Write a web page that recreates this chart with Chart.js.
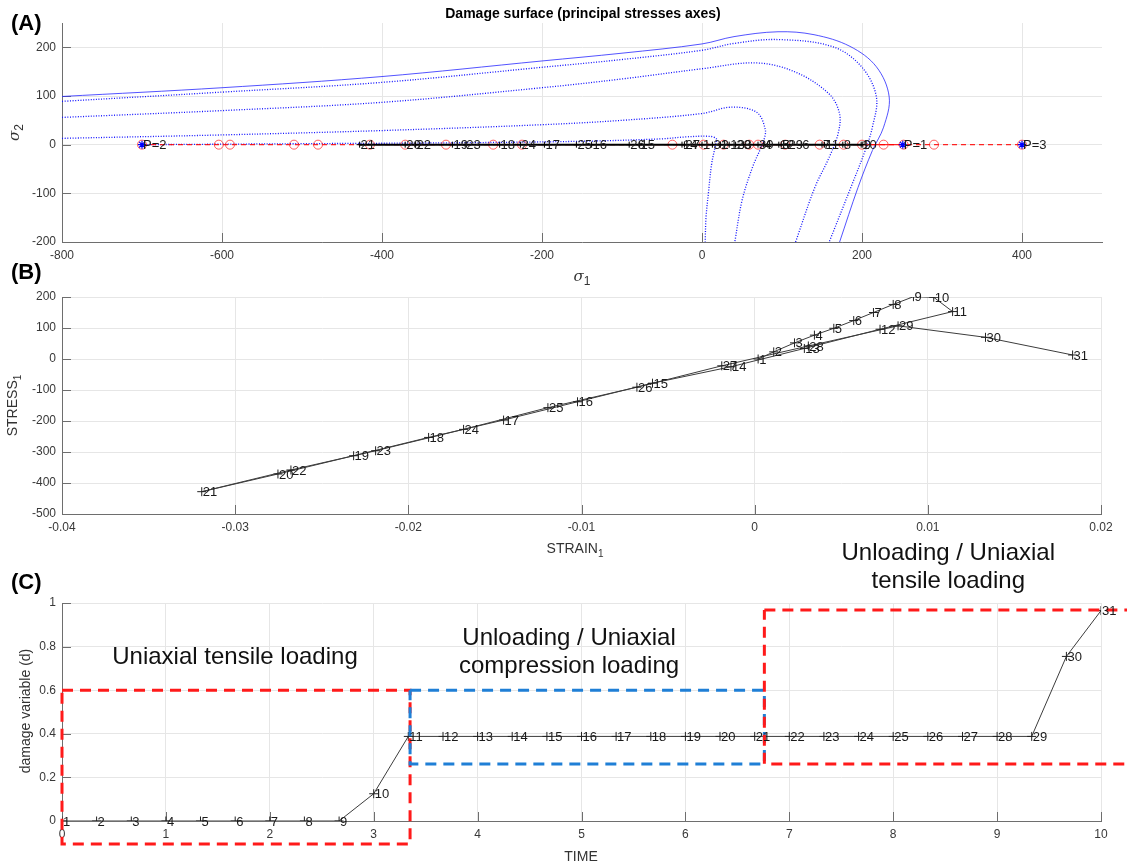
<!DOCTYPE html>
<html>
<head>
<meta charset="utf-8">
<script src="https://cdn.jsdelivr.net/npm/chart.js@4.4.0/dist/chart.umd.min.js"></script>
<style>
  html, body { margin: 0; padding: 0; background: #fff; }
  #wrap { position: relative; width: 1127px; height: 867px; }
  canvas { position: absolute; left: 0; top: 0; }
</style>
</head>
<body>
<div id="wrap">
  <canvas id="chartA" width="1127" height="867"></canvas>
  <canvas id="chartB" width="1127" height="867"></canvas>
  <canvas id="chartC" width="1127" height="867"></canvas>
</div>
<script>
// load steps 1..31
const stepLabels = ['1','2','3','4','5','6','7','8','9','10','11','12','13','14','15','16',
  '17','18','19','20','21','22','23','24','25','26','27','28','29','30','31'];
const strain1 = [0.0002, 0.0011, 0.0023, 0.00345, 0.00457, 0.00572, 0.00686, 0.0080, 0.00917, 0.01034,
  0.01143, 0.00724, 0.00287, -0.00137, -0.0059, -0.01023, -0.0145, -0.01883, -0.02316, -0.02753,
  -0.03193, -0.02678, -0.02189, -0.01681, -0.01194, -0.0068, -0.0019, 0.0031, 0.00828, 0.01333, 0.01836];
const stress1 = [0, 23, 52, 77, 99, 124, 150, 176, 201, 199, 153, 96, 34, -25, -78, -138, -197, -253,
  -312, -371, -428, -358, -296, -227, -157, -91, -22, 42, 107, 70, 13];
const time = [0, 0.333, 0.667, 1, 1.333, 1.667, 2, 2.333, 2.667, 3, 3.333, 3.667, 4, 4.333, 4.667, 5,
  5.333, 5.667, 6, 6.333, 6.667, 7, 7.333, 7.667, 8, 8.333, 8.667, 9, 9.333, 9.667, 10];
const damage = [0, 0, 0, 0, 0, 0, 0, 0, 0, 0.125, 0.388, 0.388, 0.388, 0.388, 0.388, 0.388, 0.388,
  0.388, 0.388, 0.388, 0.388, 0.388, 0.388, 0.388, 0.388, 0.388, 0.388, 0.388, 0.388, 0.755, 0.965];

// damage surfaces, [sigma1, sigma2]
const surfaceOuter = [[-800, 99], [-600, 117], [-400, 140], [-200, 172], [-100, 188], [0, 207], [40, 222],
  [95, 232], [140, 226], [185, 202], [218, 160], [234, 98], [227, 36], [213, -12], [195, -88], [172, -200]];
const surface2 = [[-800, 89], [-600, 108], [-400, 128], [-200, 159], [-100, 175], [0, 194], [40, 208],
  [95, 216], [164, 201], [200, 159], [218, 98], [213, 36], [204, -12], [186, -88], [159, -200]];
const surface3 = [[-800, 56], [-600, 70], [-400, 87], [-200, 117], [-100, 135], [0, 156], [68, 168],
  [117, 149], [159, 104], [172, 63], [170, 22], [159, -26], [141, -88], [117, -200]];
const surface4 = [[-800, 13], [-600, 20], [-400, 29], [-200, 41], [-100, 50], [0, 64], [36, 77],
  [68, 67], [79, 32], [77, 8], [63, -47], [50, -115], [41, -200]];
const surface5 = [[-700, 0], [-500, 2], [-300, 4], [-150, 7], [-50, 12], [-20, 16], [10, 17], [18, 12],
  [17, 0], [12, -40], [8, -100], [5, -150], [4, -200]];

// loading path on sigma2 = 0
const pathSigma1 = [-700, -604, -590, -510, -480, -415, -371, -320, -261, -225, -37, 2, 27, 59, 70,
  104, 147, 177, 200, 227, 252, 290, 400];
const pathSolidSigma1 = [200, 252];
const probeSigma1 = [-700, 251, 400];
const probeLabels = ['P=2', 'P=1', 'P=3'];

// stage boxes in panel C: [t0, t1, d0, d1]
const tensileBox1 = [0, 3.35, -0.105, 0.6];
const compressionBox = [3.35, 6.76, 0.262, 0.6];
const tensileBox2 = [6.76, 10.35, 0.262, 0.968];
const stageTitles = [['Uniaxial tensile loading'], ['Unloading / Uniaxial', 'compression loading'],
  ['Unloading / Uniaxial', 'tensile loading']];
const stageTitleAt = [[1.665, 0.752], [4.88, 0.773], [8.53, 1.165]];

const FONT = '"Liberation Sans", Arial, sans-serif';
Chart.defaults.font.family = FONT;

function xy(xs, ys) { return xs.map((x, i) => ({ x: x, y: ys[i] })); }
function onAxis(xs) { return xs.map(x => ({ x: x, y: 0 })); }
function pairs(p) { return p.map(v => ({ x: v[0], y: v[1] })); }
function boxPath(b) {
  return [{ x: b[0], y: b[3] }, { x: b[1], y: b[3] }, { x: b[1], y: b[2] }, { x: b[0], y: b[2] }, { x: b[0], y: b[3] }];
}

function fmt(v) { return String(Math.round(v * 1e6) / 1e6); }

function axis(min, max, step, isX) {
  return {
    type: 'linear', min: min, max: max,
    grid: { color: '#e6e6e6', drawTicks: false },
    border: { display: true, color: '#6e6e6e' },
    ticks: { stepSize: step, includeBounds: false, color: '#383838', font: { size: 12 }, padding: 6, callback: fmt },
    afterFit: isX ? (s) => { s.height = 30; } : (s) => { s.width = 62; }
  };
}

// labels next to points
Chart.register({
  id: 'pointLabels',
  afterDatasetsDraw(chart) {
    const ctx = chart.ctx;
    chart.data.datasets.forEach((ds, i) => {
      if (!ds.pointLabels) return;
      const meta = chart.getDatasetMeta(i);
      ctx.save();
      ctx.font = '13px ' + FONT;
      ctx.fillStyle = '#1a1a1a';
      ctx.textBaseline = 'middle';
      meta.data.forEach((pt, j) => ctx.fillText(ds.pointLabels[j], pt.x + 1, pt.y + 1));
      ctx.restore();
    });
  }
});

// inward tick marks
Chart.register({
  id: 'innerTicks',
  beforeDatasetsDraw(chart) {
    const ctx = chart.ctx, a = chart.chartArea, sx = chart.scales.x, sy = chart.scales.y;
    ctx.save();
    ctx.strokeStyle = '#6e6e6e';
    ctx.lineWidth = 1;
    ctx.beginPath();
    sx.ticks.forEach(t => {
      const px = Math.round(sx.getPixelForValue(t.value)) + 0.5;
      ctx.moveTo(px, a.bottom); ctx.lineTo(px, a.bottom - 9);
    });
    sy.ticks.forEach(t => {
      const py = Math.round(sy.getPixelForValue(t.value)) + 0.5;
      ctx.moveTo(a.left, py); ctx.lineTo(a.left + 9, py);
    });
    ctx.stroke();
    ctx.restore();
  }
});

function subText(ctx, x, y, main, sub, font, subFont, rotate) {
  ctx.save();
  ctx.translate(x, y);
  if (rotate) ctx.rotate(-Math.PI / 2);
  ctx.font = font;
  const w1 = ctx.measureText(main).width;
  ctx.font = subFont;
  const w2 = ctx.measureText(sub).width;
  const x0 = -(w1 + w2) / 2;
  ctx.fillStyle = '#333';
  ctx.textBaseline = 'alphabetic';
  ctx.font = font; ctx.fillText(main, x0, 0);
  ctx.font = subFont; ctx.fillText(sub, x0 + w1, 4);
  ctx.restore();
}

function panelLabel(ctx, txt, y) {
  ctx.save();
  ctx.font = 'bold 22px ' + FONT;
  ctx.fillStyle = '#000';
  ctx.fillText(txt, 11, y);
  ctx.restore();
}

const baseOptions = (pad, xAxis, yAxis) => ({
  responsive: false, animation: false, devicePixelRatio: 1, events: [],
  layout: { padding: pad },
  plugins: { legend: { display: false }, tooltip: { enabled: false } },
  scales: { x: xAxis, y: yAxis }
});

// ---------- (A) damage surface ----------
const surfaceStyle = (data, solid) => ({
  data: pairs(data), showLine: true, pointRadius: 0, tension: 0.35,
  borderColor: solid ? 'rgba(40,40,255,0.8)' : '#1010ff', borderWidth: solid ? 1 : 1.3,
  borderDash: solid ? [] : [1, 1.6]
});

new Chart(document.getElementById('chartA'), {
  type: 'scatter',
  data: {
    datasets: [
      { data: onAxis(stress1), showLine: true, borderColor: '#000', borderWidth: 2, pointStyle: 'cross',
        pointRadius: 3, pointBorderColor: '#000', pointBorderWidth: 1, pointLabels: stepLabels },
      { data: onAxis(probeSigma1), pointStyle: 'star', pointRadius: 4, pointBorderColor: '#0000ff',
        pointBorderWidth: 1.2, pointLabels: probeLabels },
      { data: onAxis(pathSigma1), showLine: true, borderColor: 'rgba(255,0,0,0.85)', borderWidth: 1.3,
        borderDash: [5, 4], pointStyle: 'circle', pointRadius: 4.5, pointBorderColor: 'rgba(255,30,30,0.7)',
        pointBackgroundColor: 'rgba(0,0,0,0)', pointBorderWidth: 1 },
      { data: onAxis(pathSolidSigma1), showLine: true, borderColor: 'rgba(255,0,0,0.85)', borderWidth: 1.3, pointRadius: 0 },
      surfaceStyle(surfaceOuter, true),
      surfaceStyle(surface2, false),
      surfaceStyle(surface3, false),
      surfaceStyle(surface4, false),
      surfaceStyle(surface5, false)
    ]
  },
  options: baseOptions({ left: 0, top: 23, right: 25, bottom: 867 - 242 - 30 },
    axis(-800, 500, 200, true), axis(-200, 250, 100, false)),
  plugins: [{
    id: 'decorA',
    afterDraw(chart) {
      const ctx = chart.ctx, a = chart.chartArea;
      panelLabel(ctx, '(A)', 30);
      ctx.save();
      ctx.font = 'bold 14px ' + FONT;
      ctx.fillStyle = '#000';
      ctx.textAlign = 'center';
      ctx.fillText('Damage surface (principal stresses axes)', 583, 18);
      ctx.restore();
      subText(ctx, (a.left + a.right) / 2, 281, '\u03c3', '1', 'italic 15px "DejaVu Serif"', '12px ' + FONT, false);
      subText(ctx, 19, (a.top + a.bottom) / 2, '\u03c3', '2', 'italic 15px "DejaVu Serif"', '12px ' + FONT, true);
    }
  }]
});

// ---------- (B) stress-strain ----------
new Chart(document.getElementById('chartB'), {
  type: 'scatter',
  data: {
    datasets: [
      { data: xy(strain1, stress1), showLine: true, borderColor: '#3c3c3c', borderWidth: 1, pointStyle: 'cross',
        pointRadius: 4.5, pointBorderColor: '#222', pointBorderWidth: 1, pointLabels: stepLabels }
    ]
  },
  options: baseOptions({ left: 0, top: 297, right: 26, bottom: 867 - 514 - 30 },
    axis(-0.04, 0.02, 0.01, true), axis(-500, 200, 100, false)),
  plugins: [{
    id: 'decorB',
    afterDraw(chart) {
      const ctx = chart.ctx, a = chart.chartArea;
      panelLabel(ctx, '(B)', 279);
      subText(ctx, 575, 553, 'STRAIN', '1', '14px ' + FONT, '10px ' + FONT, false);
      subText(ctx, 17, (a.top + a.bottom) / 2, 'STRESS', '1', '14px ' + FONT, '10px ' + FONT, true);
    }
  }]
});

// ---------- (C) damage vs time ----------
const boxStyle = (b, color) => ({
  data: boxPath(b), showLine: true, pointRadius: 0, borderColor: color, borderWidth: 3,
  borderDash: [11, 7], clip: false
});

new Chart(document.getElementById('chartC'), {
  type: 'scatter',
  data: {
    datasets: [
      boxStyle(tensileBox2, '#ff1a1a'),
      boxStyle(compressionBox, '#1f7fd6'),
      boxStyle(tensileBox1, '#ff1a1a'),
      { data: xy(time, damage), showLine: true, borderColor: '#3c3c3c', borderWidth: 1, pointStyle: 'cross',
        pointRadius: 4.5, pointBorderColor: '#222', pointBorderWidth: 1, pointLabels: stepLabels }
    ]
  },
  options: baseOptions({ left: 0, top: 603, right: 26, bottom: 867 - 821 - 30 },
    axis(0, 10, 1, true), axis(0, 1, 0.2, false)),
  plugins: [{
    id: 'decorC',
    afterDraw(chart) {
      const ctx = chart.ctx, sx = chart.scales.x, sy = chart.scales.y;
      panelLabel(ctx, '(C)', 589);
      subText(ctx, 581, 861, 'TIME', '', '14px ' + FONT, '10px ' + FONT, false);
      subText(ctx, 30, 711, 'damage variable (d)', '', '14px ' + FONT, '10px ' + FONT, true);
      ctx.save();
      ctx.font = '24px ' + FONT;
      ctx.fillStyle = '#111';
      ctx.textAlign = 'center';
      ctx.textBaseline = 'middle';
      stageTitles.forEach((lines, i) => {
        const cx = sx.getPixelForValue(stageTitleAt[i][0]);
        const cy = sy.getPixelForValue(stageTitleAt[i][1]);
        lines.forEach((ln, k) => ctx.fillText(ln, cx, cy + (k - (lines.length - 1) / 2) * 28));
      });
      ctx.restore();
    }
  }]
});
</script>
</body>
</html>
